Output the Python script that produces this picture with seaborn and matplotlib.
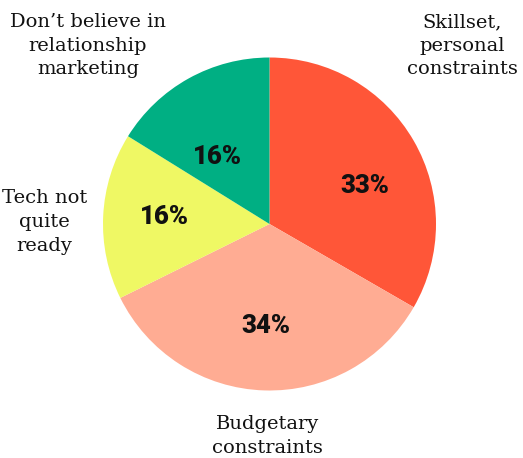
import matplotlib
matplotlib.use("Agg")
import matplotlib.pyplot as plt
import seaborn as sns

sns.set_theme(style="white")

categories = ["Skillset,\npersonal\nconstraints", "Budgetary\nconstraints",
              "Tech not\nquite\nready", "Don\u2019t believe in\nrelationship\nmarketing"]
values = [33, 34, 16, 16]
colors = ["#FF5638", "#FFAC93", "#EFF864", "#00AF83"]

# label anchors (data units, pie radius = 1)
pct_pos = [(0.575, 0.23), (-0.02, -0.61), (-0.63, 0.045), (-0.315, 0.40)]
cat_pos = [(1.156, 1.07), (-0.01, -1.273), (-1.35, 0.012), (-1.09, 1.07)]

W, H = 523, 458
fig = plt.figure(figsize=(W / 100, H / 100), dpi=100)
cx, cy, r = 269.5, 224, 166.5
ax = fig.add_axes([(cx - r) / W, (H - cy - r) / H, 2 * r / W, 2 * r / H])

ax.pie(values, colors=colors, startangle=90, counterclock=False,
       wedgeprops=dict(linewidth=0))
ax.set_xlim(-1, 1)
ax.set_ylim(-1, 1)
ax.set_aspect("equal")
ax.axis("off")

for v, (x, y) in zip(values, pct_pos):
    ax.text(x, y, f"{v}%", ha="center", va="center", fontsize=18.5,
            fontweight="black", family="Roboto", color="#111111")

for c, (x, y) in zip(categories, cat_pos):
    ax.text(x, y, c, ha="center", va="center", fontsize=14,
            family="DejaVu Serif", color="#111111", linespacing=1.4,
            clip_on=False)

fig.savefig("out.png", dpi=100, facecolor="white")
